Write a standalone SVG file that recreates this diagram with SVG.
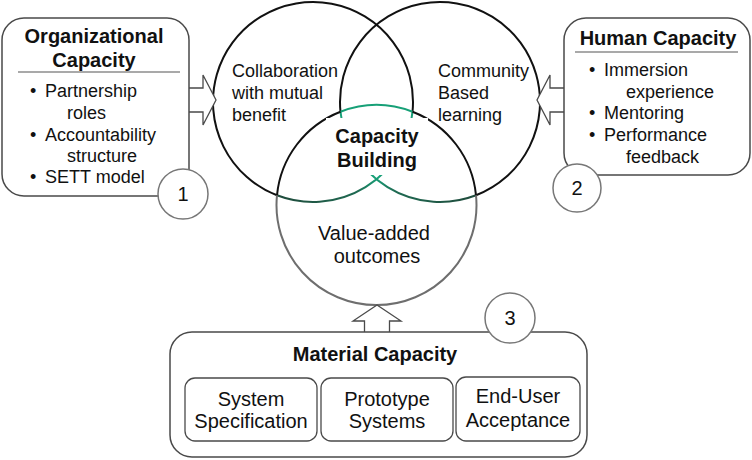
<svg xmlns="http://www.w3.org/2000/svg" width="752" height="460" viewBox="0 0 752 460">
<style>
text{font-family:"Liberation Sans",Arial,sans-serif;fill:#111;}
.h{font-size:20px;font-weight:bold;}
.b{font-size:18px;}
.m{font-size:20px;}
.box{fill:#fff;stroke:#4a4a4a;stroke-width:1.5;}
.sub{fill:#fff;stroke:#4a4a4a;stroke-width:1.3;}
.num{fill:#fff;stroke:#777;stroke-width:1.5;}
.arr{fill:#fff;stroke:#4a4a4a;stroke-width:1.3;}
.sep{stroke:#555;stroke-width:1.2;}
.c{fill:none;stroke-width:2;}
</style>
<defs>
<linearGradient id="gl" gradientUnits="userSpaceOnUse" x1="277" y1="0" x2="412" y2="0">
<stop offset="0" stop-color="#1f4a3b"/><stop offset="0.6" stop-color="#1f6a52"/><stop offset="0.75" stop-color="#18a078"/><stop offset="1" stop-color="#18a078"/>
</linearGradient>
<linearGradient id="gr" gradientUnits="userSpaceOnUse" x1="476" y1="0" x2="341" y2="0">
<stop offset="0" stop-color="#1f4a3b"/><stop offset="0.6" stop-color="#1f6a52"/><stop offset="0.75" stop-color="#18a078"/><stop offset="1" stop-color="#18a078"/>
</linearGradient>
</defs>
<rect width="752" height="460" fill="#fff"/>

<g id="venn">
<path class="c" stroke="#111" d="M276.98,195.29 A100,100 0 1 1 412.52,111.71"/>
<path class="c" stroke="url(#gl)" d="M276.98,195.29 A100,100 0 0 0 412.52,111.71"/>
<path class="c" stroke="#111" d="M340.48,111.71 A100,100 0 1 1 476.02,195.29"/>
<path class="c" stroke="url(#gr)" d="M340.48,111.71 A100,100 0 0 0 476.02,195.29"/>
<path class="c" stroke="#17a077" d="M340.48,111.71 A100,100 0 0 1 412.52,111.71"/>
<path class="c" stroke="#111" d="M276.98,195.29 A100,100 0 0 1 340.48,111.71"/>
<path class="c" stroke="#111" d="M412.52,111.71 A100,100 0 0 1 476.02,195.29"/>
<path class="c" stroke="#6e6e6e" d="M476.02,195.29 A100,100 0 1 1 276.98,195.29"/>
</g>

<g id="center-labels">
<rect x="326" y="118" width="102" height="57" fill="#fff"/>
<text class="h" text-anchor="middle" x="377" y="143">Capacity</text>
<text class="h" text-anchor="middle" x="377" y="167">Building</text>
<text class="b" x="232" y="77">Collaboration</text>
<text class="b" x="232" y="99">with mutual</text>
<text class="b" x="232" y="121">benefit</text>
<text class="b" x="438" y="77">Community</text>
<text class="b" x="438" y="99">Based</text>
<text class="b" x="438" y="121">learning</text>
<text class="m" text-anchor="middle" x="374" y="240">Value-added</text>
<text class="m" text-anchor="middle" x="377" y="263">outcomes</text>
</g>

<g id="connectors">
<path class="arr" d="M189,88 H203 V75 L216,100 L203,125 V112 H189"/>
<path class="arr" d="M564,88 H550 V75 L537,100 L550,125 V112 H564"/>
<path class="arr" d="M364.5,332 V321 H353 L377,305 L401,321 H389.5 V332"/>
</g>

<g id="organizational">
<rect class="box" x="2" y="18" width="187" height="178" rx="22"/>
<text class="h" text-anchor="middle" x="94" y="43">Organizational</text>
<text class="h" text-anchor="middle" x="94" y="67">Capacity</text>
<line class="sep" x1="18" y1="72" x2="180" y2="72"/>
<text class="b" x="30" y="97">•</text><text class="b" x="45" y="97">Partnership</text>
<text class="b" x="67" y="119">roles</text>
<text class="b" x="30" y="141">•</text><text class="b" x="45" y="141">Accountability</text>
<text class="b" x="67" y="162">structure</text>
<text class="b" x="30" y="183">•</text><text class="b" x="45" y="183">SETT model</text>
</g>
<g id="badge1">
<circle class="num" cx="183" cy="194" r="25"/>
<text class="m" text-anchor="middle" x="183" y="201">1</text>
</g>

<g id="human">
<rect class="box" x="564" y="18" width="186" height="157" rx="22"/>
<text class="h" text-anchor="middle" x="658" y="45">Human Capacity</text>
<line class="sep" x1="575" y1="52" x2="738" y2="52"/>
<text class="b" x="589" y="76">•</text><text class="b" x="604" y="76">Immersion</text>
<text class="b" x="626" y="98">experience</text>
<text class="b" x="589" y="119">•</text><text class="b" x="604" y="119">Mentoring</text>
<text class="b" x="589" y="141">•</text><text class="b" x="604" y="141">Performance</text>
<text class="b" x="626" y="163">feedback</text>
</g>
<g id="badge2">
<circle class="num" cx="577" cy="188" r="24"/>
<text class="m" text-anchor="middle" x="577" y="195">2</text>
</g>

<g id="material">
<rect class="box" x="170" y="332" width="417" height="125" rx="22"/>
<text class="h" text-anchor="middle" x="375" y="361">Material Capacity</text>
<g id="sys-spec">
<rect class="sub" x="185" y="378" width="132" height="63" rx="10"/>
<text class="m" text-anchor="middle" x="251" y="406">System</text>
<text class="m" text-anchor="middle" x="251" y="428">Specification</text>
</g>
<g id="prototype">
<rect class="sub" x="321" y="378" width="132" height="63" rx="10"/>
<text class="m" text-anchor="middle" x="387" y="406">Prototype</text>
<text class="m" text-anchor="middle" x="387" y="428">Systems</text>
</g>
<g id="acceptance">
<rect class="sub" x="456" y="377" width="124" height="64" rx="10"/>
<text class="m" text-anchor="middle" x="518" y="403">End-User</text>
<text class="m" text-anchor="middle" x="518" y="427">Acceptance</text>
</g>
</g>
<g id="badge3">
<circle class="num" cx="510" cy="318" r="25"/>
<text class="m" text-anchor="middle" x="510" y="325">3</text>
</g>
</svg>
